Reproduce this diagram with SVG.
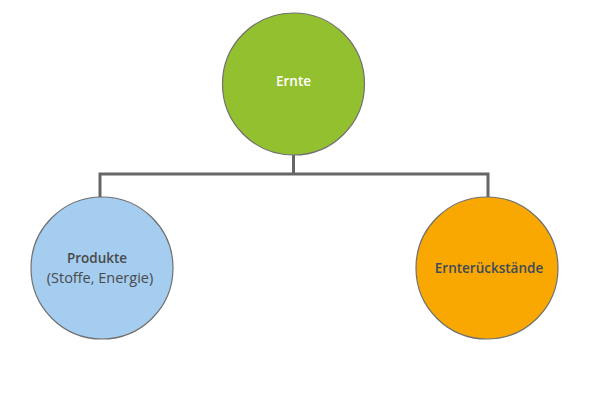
<svg xmlns="http://www.w3.org/2000/svg" width="600" height="400" viewBox="0 0 600 400">
<style>
.node{stroke:#707070;stroke-width:1.2}
.conn{fill:none;stroke:#666666;stroke-width:3}
text{font-family:"Open Sans","Noto Sans","DejaVu Sans",sans-serif;font-size:13.5px;text-anchor:middle}
.b{font-weight:600}
.r{font-size:14.5px}
</style>
<rect width="600" height="400" fill="#ffffff"/>
<g id="connectors">
<path class="conn" d="M293.5,155 V174 M100,174 H488 M100,172.5 V197 M488,172.5 V197"/>
</g>
<g id="ernte">
<circle class="node" cx="293.5" cy="84" r="71" fill="#93c02f"/>
<text class="b" x="293.5" y="86" fill="#ffffff">Ernte</text>
</g>
<g id="produkte">
<circle class="node" cx="102" cy="268" r="71" fill="#a4cdf0"/>
<text class="b" x="97" y="263" fill="#4a4a4a">Produkte</text>
<text class="r" x="100" y="283" fill="#4a4a4a">(Stoffe, Energie)</text>
</g>
<g id="ernterueckstaende">
<circle class="node" cx="487" cy="268" r="71" fill="#f8a800"/>
<text class="b" x="489" y="273" fill="#3e4a5a">Ernterückstände</text>
</g>
</svg>
